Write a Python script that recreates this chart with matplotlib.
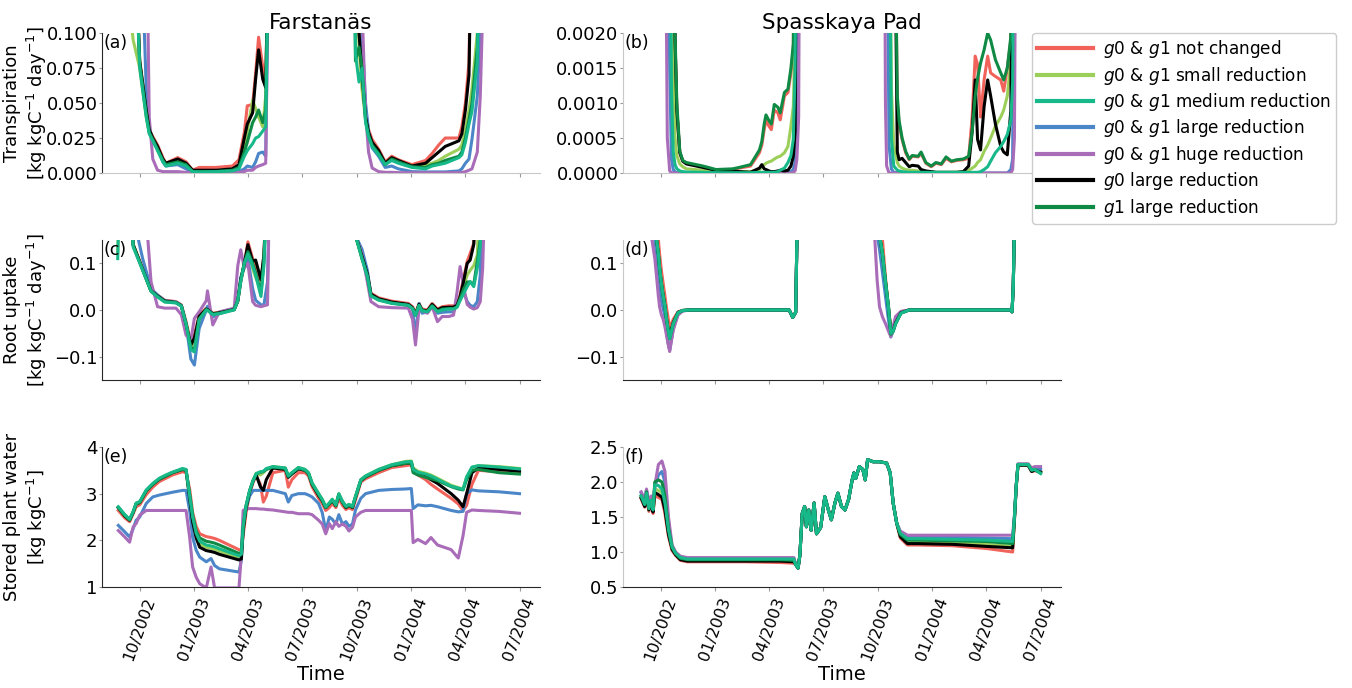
import numpy as np
import pandas as pd
import matplotlib
matplotlib.use('Agg')
import matplotlib.pyplot as plt
import matplotlib.dates as mdates

labels = ['$g0$ & $g1$ not changed', '$g0$ & $g1$ small reduction',
          '$g0$ & $g1$ medium reduction', '$g0$ & $g1$ large reduction',
          '$g0$ & $g1$ huge reduction', '$g0$ large reduction', '$g1$ large reduction']
colors = ['#f0625a', '#9ccf5a', '#17b889', '#4a86c8', '#a86cb8', '#000000', '#0e8a44']
zorders = [2.0, 2.1, 2.6, 2.2, 2.2, 2.3, 2.4]

# ---- (a) Farstanas transpiration ----
X = 0.2  # off the top of the axis
dates_a = ['2002-08-25', '2002-09-20', '2002-10-01', '2002-10-12', '2002-10-17', '2002-10-23',
           '2002-10-31', '2002-11-09', '2002-11-14', '2002-12-04', '2002-12-18', '2002-12-29',
           '2003-01-09', '2003-02-06', '2003-03-06', '2003-03-17', '2003-03-26', '2003-03-31',
           '2003-04-09', '2003-04-14', '2003-04-19', '2003-04-26', '2003-05-01', '2003-05-07',
           '2003-09-26', '2003-09-29', '2003-10-05', '2003-10-10', '2003-10-16', '2003-10-21',
           '2003-10-27', '2003-11-07', '2003-11-18', '2003-11-29', '2003-12-10', '2004-01-02',
           '2004-01-25', '2004-02-05', '2004-02-16', '2004-02-27', '2004-03-21', '2004-03-26',
           '2004-04-01', '2004-04-07', '2004-04-12', '2004-04-21', '2004-04-26', '2004-04-29',
           '2004-05-10', '2004-07-01']
a_r = [X, X, .08, .045, .031, .026, .020, .011, .007, .011,
       .008, .002, .004, .004, .005, .0095, .029, .048, .049, .071,
       .097, .076, .062, X, X, X, .1, .07, .043, .031,
       .024, .017, .008, .012, .0095, .006, .009, .014, .020, .025,
       .025, .033, .05, .079, X, X, X, X, X, X]
a_lg = [X, .095, .075, .04, .029, .024, .017, .009, .006, .008,
        .006, .001, .001, .001, .002, .005, .02, .03, .052, .046,
        .040, .033, .055, X, X, X, .09, .06, .038, .027,
        .020, .014, .006, .010, .008, .005, .006, .007, .009, .012,
        .017, .020, .031, .045, .06, .1, X, X, X, X]
a_t = [X, X, .075, .04, .028, .023, .016, .008, .005, .007,
       .005, .001, .0008, .001, .0015, .003, .012, .016, .021, .025,
       .026, .030, .033, X, X, .085, .065, .075, .036, .026,
       .019, .013, .006, .009, .007, .004, .003, .005, .006, .007,
       .011, .013, .022, .035, .044, .08, X, X, X, X]
a_b = [X, X, X, .06, .032, .024, .017, .008, .005, .006,
       .003, .0005, .0003, .0003, .0005, .001, .003, .005, .004, .008,
       .014, .015, .012, X, X, X, X, .1, .05, .03,
       .018, .012, .004, .005, .003, .001, .0008, .0008, .0008, .0008,
       .0015, .003, .007, .010, .024, .055, .1, X, X, X]
a_p = [X, X, X, X, .04, .01, .002, .001, .001, .001,
       .0005, .0002, .0002, .0002, .0003, .0005, .001, .002, .002, .004,
       .005, .006, .007, X, X, X, X, .12, .043, .015,
       .0036, .001, .0005, .0005, .0003, .0002, .0002, .0002, .0002, .0002,
       .0003, .0005, .001, .002, .003, .015, .055, .1, X, X]
a_k = [X, X, .08, .045, .031, .025, .019, .010, .007, .010,
       .007, .002, .002, .002, .003, .006, .025, .035, .043, .067,
       .088, .067, .061, X, X, X, .1, .07, .04, .029,
       .022, .016, .007, .011, .009, .005, .007, .011, .015, .019,
       .023, .028, .045, .070, X, X, X, X, X, X]
a_dg = [X, X, .078, .042, .029, .024, .017, .009, .006, .008,
        .006, .001, .001, .001, .002, .004, .015, .022, .036, .040,
        .045, .036, .045, X, X, .08, .09, .075, .038, .027,
        .020, .014, .006, .010, .008, .0045, .004, .006, .007, .009,
        .012, .015, .025, .038, .05, .09, X, X, X, X]

# ---- (b) Spasskaya Pad transpiration, in 1e-4 kg kgC-1 day-1 ----
X = 50
dates_b = ['2002-08-28', '2002-10-08', '2002-10-12', '2002-10-16', '2002-10-19', '2002-10-22',
           '2002-10-25', '2002-10-28', '2002-11-02', '2002-11-07', '2002-11-13', '2002-12-11',
           '2003-01-02', '2003-01-30', '2003-02-10', '2003-03-01', '2003-03-16', '2003-03-20',
           '2003-03-24', '2003-03-27', '2003-04-01', '2003-04-05', '2003-04-10', '2003-04-16',
           '2003-04-20', '2003-04-27', '2003-05-03', '2003-05-08', '2003-05-12', '2003-05-15',
           '2003-05-18', '2003-05-21', '2003-05-23', '2003-10-12', '2003-10-14', '2003-10-16',
           '2003-10-20', '2003-10-24', '2003-10-28', '2003-11-03', '2003-11-06', '2003-11-11',
           '2003-11-17', '2003-11-23', '2003-11-28', '2003-12-08', '2003-12-13', '2003-12-21',
           '2003-12-30', '2004-01-07', '2004-01-16', '2004-01-24', '2004-02-02', '2004-02-11',
           '2004-02-22', '2004-03-02', '2004-03-08', '2004-03-13', '2004-03-17', '2004-03-22',
           '2004-03-28', '2004-04-03', '2004-04-08', '2004-04-16', '2004-04-25', '2004-04-30',
           '2004-05-06', '2004-05-12', '2004-05-15', '2004-05-18', '2004-05-21', '2004-07-01']
b_r = [X, X, X, X, X, X, 19, 9, 2.9, 1.7,
       1.4, 0.9, 0.4, 0.5, 0.7, 1.0, 2.9, 4, 6.2, 7.6,
       6.7, 6.2, 9.0, 8.6, 7.6, 11, 11.5, 14.3, 17.6, X,
       X, X, X, X, X, X, X, X, X, 10,
       7, 4.8, 2.9, 1.9, 2.4, 2.3, 2.8, 1.4, 0.9, 1.4,
       1.2, 2.1, 1.6, 1.8, 1.9, 2.1, 8.1, 16.7, 15.5, 8.0,
       13.3, 16.7, 14.3, 13.8, 13.3, 11.7, 15, 19, X, X,
       X, X]
b_lg = [X, X, X, X, X, 14, 5, 2.5, 1.3, 0.9,
        0.6, 0.4, 0.2, 0.2, 0.2, 0.2, 0.5, 0.8, 1.2, 1.4,
        1.6, 1.7, 2.0, 2.3, 2.4, 2.9, 3.8, 6.7, 9.5, 20,
        X, X, X, X, X, X, X, 12, 4, 1.5,
        1.0, 0.7, 0.5, 0.4, 0.4, 0.3, 0.3, 0.2, 0.2, 0.1,
        0.1, 0.1, 0.1, 0.1, 0.2, 0.4, 0.7, 1.0, 1.5, 1.9,
        3.1, 4, 5, 6.7, 8, 9, 11, 16, X, X,
        X, X]
b_t = [X, X, X, X, 12, 3, 1.2, 0.6, 0.3, 0.2,
       0.15, 0.1, 0.05, 0.05, 0.05, 0.05, 0.1, 0.1, 0.1, 0.1,
       0.1, 0.1, 0.1, 0.2, 0.4, 0.7, 1.5, 2.5, 4.8, 15,
       X, X, X, X, X, X, X, 5, 1.0, 0.4,
       0.3, 0.2, 0.15, 0.1, 0.1, 0.1, 0.1, 0.1, 0.1, 0.1,
       0.1, 0.1, 0.1, 0.1, 0.1, 0.1, 0.1, 0.1, 0.1, 0.2,
       0.5, 0.9, 1.7, 2.9, 3.8, 4.5, 5.5, 7.6, 13, X,
       X, X]
b_b = [X, X, X, 15, 2, 0.5, 0.15, 0.05, 0.02, 0.01,
       0, 0, 0, 0, 0, 0, 0, 0, 0, 0,
       0, 0, 0, 0, 0, 0, 0.1, 0.2, 0.5, 1.5,
       6, X, X, X, X, X, 4, 0.6, 0.1, 0.05,
       0.03, 0, 0, 0, 0, 0, 0, 0, 0, 0,
       0, 0, 0, 0, 0, 0, 0, 0, 0, 0,
       0, 0, 0, 0, 0, 0, 0, 0.5, 2, X,
       X, X]
b_p = [X, X, 5, 0.3, 0.05, 0.02, 0, 0, 0, 0,
       0, 0, 0, 0, 0, 0, 0, 0, 0, 0,
       0, 0, 0, 0, 0, 0, 0, 0, 0.1, 0.3,
       2, 8, X, X, 10, 1, 0.02, 0, 0, 0,
       0, 0, 0, 0, 0, 0, 0, 0, 0, 0,
       0, 0, 0, 0, 0, 0, 0, 0, 0, 0,
       0, 0, 0, 0, 0, 0, 0, 0, 0.5, 5,
       X, X]
b_k = [X, X, X, X, X, X, 19, 9, 2.9, 1.7,
       1.3, 0.8, 0.4, 0.3, 0.2, 0.1, 0.7, 1.2, 0.6, 0.5,
       0.3, 0.2, 0.2, 0.3, 0.4, 0.3, 0.4, 1.0, 2.4, 6,
       X, X, X, X, X, X, X, X, X, 3,
       1.9, 2.1, 1.5, 0.9, 1.1, 1.0, 0.5, 0.3, 0.2, 0.1,
       0.1, 0.1, 0.1, 0.1, 0.2, 1.0, 6, 13.3, 4.8, 3.3,
       9.5, 13.3, 11, 7, 3.8, 3.0, 2.6, 9, X, X,
       X, X]
b_dg = [X, X, X, X, X, X, 20, 10, 3.1, 1.8,
        1.5, 1.0, 0.5, 0.6, 0.8, 1.2, 3.3, 4.5, 7, 8.3,
        7.5, 7.0, 9.8, 9.4, 8.6, 11.5, 12, 15, 18.5, X,
        X, X, X, X, X, X, X, X, X, 11,
        7.5, 5, 3.1, 2.0, 2.5, 2.4, 3.0, 1.5, 1.0, 1.5,
        1.3, 2.3, 1.7, 1.9, 2.0, 2.4, 6, 11, 13.5, 15.7,
        17.6, 20, 19, 16.2, 14.3, 13.3, 15, 19.5, X, X,
        X, X]

# ---- (c) Farstanas root uptake ----
X = 0.3
dates_c = ['2002-08-25', '2002-08-29', '2002-09-13', '2002-09-20', '2002-10-06', '2002-10-20',
           '2002-10-31', '2002-11-12', '2002-12-01', '2002-12-10', '2002-12-18', '2002-12-26',
           '2003-01-01', '2003-01-09', '2003-01-21', '2003-01-23', '2003-02-01', '2003-02-12',
           '2003-03-09', '2003-03-15', '2003-03-20', '2003-03-26', '2003-04-01', '2003-04-09',
           '2003-04-14', '2003-04-23', '2003-04-28', '2003-05-04', '2003-05-08', '2003-09-29',
           '2003-10-10', '2003-10-19', '2003-10-25', '2003-11-07', '2003-11-29', '2003-12-27',
           '2004-01-03', '2004-01-08', '2004-01-14', '2004-01-19', '2004-01-28', '2004-02-05',
           '2004-02-14', '2004-02-22', '2004-03-04', '2004-03-12', '2004-03-18', '2004-03-23',
           '2004-03-29', '2004-04-04', '2004-04-09', '2004-04-15', '2004-04-21', '2004-04-26',
           '2004-04-30', '2004-05-05', '2004-07-01']
c_r = [X, X, X, .14, .089, .043, .032, .021, .018, .011,
       -.025, -.071, -.054, -.011, .004, .003, -.007, -.005, .002, .018,
       .061, .096, .146, .11, .093, .061, .118, X, X, .16,
       .118, .079, .036, .026, .019, .014, .007, -.007, .014, .002,
       0, .014, .002, .007, .009, .009, .014, .032, .068, .104,
       .121, .143, X, X, X, X, X]
c_lg = [.125, X, X, .14, .086, .04, .029, .018, .016, .009,
        -.03, -.08, -.065, -.015, .002, 0, -.008, -.006, .001, .02,
        .065, .1, .13, .089, .07, .043, .11, X, X, .16,
        .11, .075, .032, .022, .015, .011, .004, -.01, .011, -.001,
        -.003, .01, -.002, .003, .004, .004, .008, .025, .05, .075,
        .085, .095, .118, X, X, X, X]
c_t = [.11, X, X, .135, .085, .04, .028, .017, .015, .008,
       -.03, -.085, -.09, -.02, 0, -.001, -.01, -.008, 0, .02,
       .06, .1, .12, .095, .075, .029, .096, X, X, .16,
       .11, .072, .03, .021, .014, .01, .003, -.012, .01, -.002,
       -.004, .008, -.004, 0, .002, .002, .006, .02, .035, .05,
       .061, .05, .09, .14, X, X, X]
c_b = [X, X, X, .2, .11, .046, .032, .02, .017, .01,
       -.03, -.105, -.118, -.04, 0, .008, -.015, -.008, .002, .02,
       .07, .09, .11, .046, .021, .011, .011, .06, X, .16,
       .13, .085, .032, .023, .016, .011, .004, -.054, .014, -.007,
       -.004, .007, -.007, -.005, -.004, -.004, .012, .025, .039, .018,
       .01, .007, .018, .075, X, X, X]
c_p = [X, X, X, X, X, .061, .007, .004, .004, -.01,
       -.054, -.065, -.018, -.004, .02, .041, -.032, -.004, .004, .095,
       .129, .09, .1, .018, .01, .007, .009, .011, X, .16,
       .12, .06, .018, .007, .005, .004, -.02, -.075, .004, -.002,
       -.007, .007, -.025, -.014, -.014, -.011, .039, .093, .05, .012,
       .006, .002, .005, .018, .089, X, X]
c_k = [X, X, X, .14, .087, .041, .030, .019, .016, .009,
       -.03, -.075, -.06, -.014, .002, .001, -.008, -.006, .001, .02,
       .065, .1, .14, .104, .107, .065, .118, X, X, .16,
       .115, .077, .034, .024, .017, .012, .005, -.009, .012, 0,
       -.002, .012, 0, .005, .006, .006, .01, .028, .062, .1,
       .107, .14, X, X, X, X, X]
c_dg = [X, X, X, .138, .086, .041, .029, .018, .016, .009,
        -.03, -.08, -.085, -.02, .001, 0, -.009, -.007, .001, .02,
        .062, .1, .125, .1, .08, .036, .105, X, X, .16,
        .11, .073, .031, .022, .015, .01, .003, -.011, .01, -.001,
        -.003, .009, -.003, .002, .003, .003, .007, .024, .045, .06,
        .06, .055, .104, .15, X, X, X]

# ---- (d) Spasskaya Pad root uptake ----
dates_d = ['2002-08-28', '2002-09-15', '2002-09-21', '2002-09-24', '2002-09-27', '2002-09-29',
           '2002-10-02', '2002-10-05', '2002-10-08', '2002-10-10', '2002-10-13', '2002-10-16',
           '2002-10-22', '2002-10-30', '2002-11-07', '2002-11-20', '2003-05-05', '2003-05-11',
           '2003-05-16', '2003-05-20', '2003-09-24', '2003-09-30', '2003-10-04', '2003-10-09',
           '2003-10-14', '2003-10-19', '2003-10-23', '2003-10-27', '2003-10-31', '2003-11-09',
           '2003-11-23', '2004-05-12', '2004-05-14', '2004-05-16', '2004-05-20', '2004-07-01']
d_r = [X, X, X, X, .15, .12, .085, .057, .03, .01,
       -.014, -.04, -.02, -.004, -.001, 0, 0, -.016, -.005, X,
       X, X, X, .15, .07, 0, -.035, -.04, -.02, -.004,
       0, 0, -.004, .05, X, X]
d_lg = [X, X, X, .15, .12, .09, .06, .033, .01, -.012,
        -.037, -.058, -.028, -.006, -.001, 0, 0, -.016, -.005, X,
        X, X, .16, .125, .065, .01, -.045, -.044, -.028, -.006,
        0, 0, -.004, .05, X, X]
d_t = [X, X, X, .15, .12, .09, .057, .03, .008, -.014,
       -.04, -.061, -.029, -.006, -.001, 0, 0, -.016, -.005, X,
       X, X, .16, .12, .06, .007, -.05, -.045, -.03, -.007,
       0, 0, -.004, .05, X, X]
d_b = [X, X, .15, .12, .08, .043, .02, .003, -.014, -.04,
       -.07, -.086, -.04, -.007, -.002, 0, 0, -.016, -.005, X,
       X, .16, .13, .08, .03, -.02, -.058, -.045, -.025, -.005,
       0, 0, -.004, .05, X, X]
d_p = [X, .16, .11, .07, .029, .007, -.01, -.02, -.036, -.05,
       -.07, -.089, -.043, -.011, -.002, 0, 0, -.016, -.005, X,
       .2, .064, .007, -.015, -.029, -.045, -.057, -.035, -.014, -.003,
       0, 0, -.004, .05, X, X]
d_k = [X, X, X, .15, .12, .09, .058, .032, .009, -.013,
       -.038, -.055, -.027, -.005, -.001, 0, 0, -.016, -.005, X,
       X, X, .16, .12, .062, .008, -.048, -.044, -.028, -.006,
       0, 0, -.004, .05, X, X]
d_dg = [X, X, X, .15, .12, .09, .057, .03, .008, -.014,
        -.04, -.062, -.03, -.006, -.001, 0, 0, -.016, -.005, X,
        X, X, .16, .12, .06, .007, -.052, -.046, -.03, -.007,
        0, 0, -.004, .05, X, X]

# ---- (e) Farstanas stored plant water ----
dates_e = ['2002-08-26', '2002-09-06', '2002-09-14', '2002-09-20', '2002-09-25', '2002-10-01',
           '2002-10-12', '2002-10-23', '2002-11-03', '2002-11-14', '2002-11-25', '2002-12-12',
           '2002-12-18', '2002-12-24', '2002-12-29', '2003-01-04', '2003-01-10', '2003-01-21',
           '2003-01-29', '2003-02-04', '2003-02-12', '2003-03-17', '2003-03-21', '2003-03-24',
           '2003-03-29', '2003-04-04', '2003-04-10', '2003-04-15', '2003-04-22', '2003-04-27',
           '2003-05-02', '2003-05-13', '2003-06-03', '2003-06-08', '2003-06-14', '2003-06-25',
           '2003-07-06', '2003-07-12', '2003-07-18', '2003-07-29', '2003-08-04', '2003-08-10',
           '2003-08-16', '2003-08-21', '2003-08-27', '2003-09-01', '2003-09-07', '2003-09-13',
           '2003-09-18', '2003-09-24', '2003-09-29', '2003-10-08', '2003-10-16', '2003-11-07',
           '2003-11-29', '2003-12-22', '2004-01-01', '2004-01-04', '2004-01-12', '2004-01-25',
           '2004-02-03', '2004-02-14', '2004-03-08', '2004-03-20', '2004-03-28', '2004-04-03',
           '2004-04-12', '2004-04-23', '2004-05-27', '2004-07-01']
e_r = [2.64, 2.48, 2.4, 2.57, 2.72, 2.76, 2.98, 3.14, 3.26, 3.33,
       3.4, 3.47, 3.45, 3.1, 2.6, 2.3, 2.14, 2.08, 2.06, 2.04,
       2.0, 1.8, 1.78, 2.1, 2.6, 3.0, 3.25, 3.38, 3.2, 2.82,
       2.95, 3.45, 3.5, 3.14, 3.3, 3.45, 3.45, 3.38, 3.15, 2.9,
       2.79, 2.64, 2.7, 2.79, 2.7, 2.9, 2.75, 2.66, 2.7, 2.66,
       2.86, 3.25, 3.32, 3.45, 3.56, 3.6, 3.62, 3.48, 3.4, 3.3,
       3.2, 3.1, 2.9, 2.78, 2.64, 2.75, 3.2, 3.5, 3.47, 3.44]
e_lg = [2.71, 2.54, 2.44, 2.61, 2.79, 2.82, 3.07, 3.21, 3.32, 3.39,
        3.45, 3.53, 3.51, 2.93, 2.45, 2.1, 1.92, 1.85, 1.83, 1.81,
        1.77, 1.64, 1.66, 2.28, 2.74, 3.06, 3.3, 3.44, 3.4, 3.45,
        3.52, 3.58, 3.55, 3.38, 3.45, 3.56, 3.52, 3.45, 3.23, 3.0,
        2.88, 2.72, 2.8, 2.88, 2.76, 3.0, 2.84, 2.73, 2.77, 2.73,
        2.94, 3.3, 3.38, 3.52, 3.62, 3.69, 3.7, 3.55, 3.48, 3.44,
        3.4, 3.33, 3.18, 3.13, 3.1, 3.35, 3.56, 3.6, 3.58, 3.54]
e_t = [2.72, 2.55, 2.45, 2.62, 2.8, 2.83, 3.08, 3.22, 3.33, 3.4,
       3.46, 3.54, 3.52, 2.95, 2.5, 2.15, 1.98, 1.9, 1.88, 1.86,
       1.82, 1.67, 1.7, 2.3, 2.75, 3.07, 3.29, 3.43, 3.47, 3.48,
       3.54, 3.58, 3.55, 3.38, 3.45, 3.56, 3.52, 3.45, 3.23, 3.0,
       2.88, 2.72, 2.8, 2.88, 2.76, 3.0, 2.84, 2.73, 2.77, 2.73,
       2.94, 3.3, 3.38, 3.52, 3.62, 3.68, 3.69, 3.52, 3.46, 3.42,
       3.38, 3.31, 3.16, 3.12, 3.09, 3.36, 3.57, 3.6, 3.57, 3.53]
e_b = [2.32, 2.18, 2.07, 2.25, 2.43, 2.5, 2.79, 2.93, 2.97, 3.0,
       3.03, 3.07, 3.07, 2.64, 2.07, 1.79, 1.64, 1.54, 1.61, 1.46,
       1.39, 1.32, 1.57, 2.29, 2.71, 2.95, 3.07, 3.07, 3.07, 3.07,
       3.07, 3.07, 3.0, 2.82, 2.96, 3.0, 3.0, 2.97, 2.93, 2.79,
       2.6, 2.2, 2.5, 2.45, 2.35, 2.55, 2.35, 2.4, 2.3, 2.35,
       2.65, 2.9, 3.0, 3.07, 3.09, 3.1, 3.11, 2.68, 2.76, 2.74,
       2.75, 2.72, 2.64, 2.61, 2.62, 3.0, 3.08, 3.06, 3.04, 3.0]
e_p = [2.21, 2.07, 1.96, 2.29, 2.36, 2.54, 2.64, 2.64, 2.64, 2.64,
       2.64, 2.64, 2.64, 2.07, 1.43, 1.21, 1.07, 0.98, 1.43, 0.98,
       0.98, 0.98, 1.71, 2.64, 2.68, 2.68, 2.68, 2.68, 2.67, 2.67,
       2.66, 2.65, 2.61, 2.6, 2.6, 2.57, 2.57, 2.57, 2.55, 2.43,
       2.35, 2.14, 2.36, 2.25, 2.4, 2.3, 2.35, 2.3, 2.2, 2.28,
       2.5, 2.6, 2.64, 2.64, 2.64, 2.64, 2.64, 1.95, 2.02, 1.93,
       2.06, 1.9, 1.8, 1.62, 2.1, 2.6, 2.65, 2.64, 2.62, 2.58]
e_k = [2.7, 2.52, 2.43, 2.6, 2.78, 2.81, 3.06, 3.2, 3.31, 3.38,
       3.45, 3.52, 3.5, 2.9, 2.4, 2.05, 1.85, 1.78, 1.76, 1.74,
       1.7, 1.58, 1.6, 2.2, 2.7, 3.05, 3.28, 3.4, 3.15, 3.07,
       3.3, 3.55, 3.52, 3.35, 3.42, 3.53, 3.5, 3.43, 3.2, 2.96,
       2.85, 2.7, 2.78, 2.85, 2.74, 2.97, 2.82, 2.7, 2.75, 2.7,
       2.92, 3.28, 3.36, 3.5, 3.6, 3.65, 3.66, 3.52, 3.45, 3.38,
       3.3, 3.22, 3.0, 2.86, 2.72, 3.0, 3.45, 3.55, 3.52, 3.48]
e_dg = [2.7, 2.53, 2.44, 2.6, 2.78, 2.81, 3.06, 3.2, 3.31, 3.38,
        3.45, 3.52, 3.5, 3.0, 2.55, 2.2, 2.05, 1.98, 1.96, 1.94,
        1.9, 1.72, 1.74, 2.3, 2.74, 3.06, 3.28, 3.42, 3.46, 3.47,
        3.52, 3.57, 3.54, 3.37, 3.44, 3.55, 3.5, 3.43, 3.21, 2.98,
        2.86, 2.7, 2.78, 2.86, 2.74, 2.98, 2.82, 2.71, 2.75, 2.71,
        2.92, 3.28, 3.36, 3.5, 3.6, 3.65, 3.66, 3.45, 3.4, 3.35,
        3.32, 3.28, 3.15, 3.1, 3.08, 3.3, 3.5, 3.52, 3.45, 3.42]

# ---- (f) Spasskaya Pad stored plant water ----
dates_f = ['2002-08-29', '2002-09-04', '2002-09-07', '2002-09-11', '2002-09-15', '2002-09-18',
           '2002-09-21', '2002-09-27', '2002-10-03', '2002-10-08', '2002-10-14', '2002-10-20',
           '2002-10-26', '2002-11-03', '2002-11-15', '2002-12-25', '2003-02-21', '2003-04-20',
           '2003-05-13', '2003-05-16', '2003-05-20', '2003-05-23', '2003-05-27', '2003-05-31',
           '2003-06-03', '2003-06-07', '2003-06-11', '2003-06-16', '2003-06-20', '2003-06-27',
           '2003-07-04', '2003-07-10', '2003-07-15', '2003-07-21', '2003-07-26', '2003-08-01',
           '2003-08-07', '2003-08-13', '2003-08-19', '2003-08-22', '2003-08-25', '2003-08-31',
           '2003-09-06', '2003-09-10', '2003-09-14', '2003-09-23', '2003-10-04', '2003-10-16',
           '2003-10-22', '2003-10-27', '2003-11-02', '2003-11-08', '2003-11-20', '2003-12-07',
           '2004-02-03', '2004-04-01', '2004-05-15', '2004-05-18', '2004-05-21', '2004-05-24',
           '2004-06-10', '2004-06-16', '2004-06-21', '2004-07-01']
f_summer = [0.82, 0.77, 0.95, 1.55, 1.65, 1.36, 1.6, 1.31, 1.70, 1.26,
            1.35, 1.79, 1.6, 1.46, 1.70, 1.84, 1.65, 1.60, 1.75, 2.03,
            2.13, 2.05, 2.22, 2.18, 2.03, 2.32, 2.29, 2.29, 2.27, 2.13,
            1.70, 1.41]
f_r = ([1.76, 1.64, 1.78, 1.58, 1.7, 1.55, 1.8, 1.78, 1.75, 1.55,
        1.22, 1.02, 0.95, 0.88, 0.86, 0.86, 0.86, 0.85, 0.84] + f_summer +
       [1.2, 1.1, 1.1, 1.09, 1.05, 1.0, 1.45, 1.92, 2.24, 2.24, 2.15, 2.16, 2.15])
f_lg = ([1.78, 1.66, 1.82, 1.6, 1.72, 1.58, 1.9, 1.88, 1.85, 1.65,
         1.28, 1.05, 0.97, 0.9, 0.88, 0.88, 0.88, 0.88, 0.87] + f_summer +
        [1.23, 1.14, 1.14, 1.13, 1.11, 1.08, 1.47, 1.93, 2.24, 2.24, 2.16, 2.17, 2.14])
f_t = ([1.8, 1.68, 1.84, 1.62, 1.74, 1.6, 1.96, 1.95, 1.9, 1.7,
        1.31, 1.07, 0.98, 0.92, 0.9, 0.9, 0.9, 0.9, 0.9] + f_summer +
       [1.27, 1.19, 1.19, 1.18, 1.17, 1.15, 1.5, 1.94, 2.25, 2.25, 2.17, 2.18, 2.12])
f_b = ([1.84, 1.72, 1.88, 1.68, 1.78, 1.66, 1.92, 2.1, 2.15, 2.0,
        1.4, 1.09, 0.99, 0.93, 0.91, 0.91, 0.91, 0.91, 0.91] + f_summer +
       [1.28, 1.21, 1.21, 1.21, 1.2, 1.19, 1.5, 1.95, 2.25, 2.25, 2.18, 2.2, 2.18])
f_p = ([1.86, 1.75, 1.9, 1.72, 1.8, 1.7, 1.95, 2.25, 2.3, 2.15,
        1.5, 1.1, 1.0, 0.94, 0.92, 0.92, 0.92, 0.92, 0.92] + f_summer +
       [1.3, 1.24, 1.24, 1.24, 1.24, 1.24, 1.52, 1.96, 2.26, 2.26, 2.2, 2.22, 2.22])
f_k = ([1.77, 1.65, 1.8, 1.6, 1.7, 1.57, 1.85, 1.82, 1.78, 1.6,
        1.25, 1.04, 0.96, 0.89, 0.87, 0.87, 0.87, 0.87, 0.86] + f_summer +
       [1.22, 1.12, 1.12, 1.11, 1.08, 1.06, 1.46, 1.93, 2.24, 2.24, 2.15, 2.17, 2.14])
f_dg = ([1.8, 1.68, 1.86, 1.63, 1.74, 1.62, 2.0, 2.03, 2.0, 1.8,
         1.35, 1.07, 0.98, 0.91, 0.89, 0.89, 0.89, 0.89, 0.88] + f_summer +
        [1.25, 1.17, 1.17, 1.16, 1.15, 1.12, 1.48, 1.94, 2.25, 2.25, 2.17, 2.18, 2.13])

x_range = ['2002-07-29', '2004-08-04']


def draw(ax, dates, series, scale=1.0):
    t = pd.to_datetime(dates)
    for vals, c, lab, z in zip(series, colors, labels, zorders):
        ax.plot(t, np.array(vals) * scale, color=c, lw=2.2, label=lab, zorder=z)


fig, axes = plt.subplots(3, 2, sharex=True, figsize=(13.52, 6.88), dpi=100)

draw(axes[0, 0], dates_a, [a_r, a_lg, a_t, a_b, a_p, a_k, a_dg])
draw(axes[0, 1], dates_b, [b_r, b_lg, b_t, b_b, b_p, b_k, b_dg], scale=1e-4)
draw(axes[1, 0], dates_c, [c_r, c_lg, c_t, c_b, c_p, c_k, c_dg])
draw(axes[1, 1], dates_d, [d_r, d_lg, d_t, d_b, d_p, d_k, d_dg])
draw(axes[2, 0], dates_e, [e_r, e_lg, e_t, e_b, e_p, e_k, e_dg])
draw(axes[2, 1], dates_f, [f_r, f_lg, f_t, f_b, f_p, f_k, f_dg])

# axis positions (figure fractions)
lefts = [0.0752, 0.4606]
bottoms = [0.7485, 0.4477, 0.1468]
for i in range(3):
    for j in range(2):
        axes[i, j].set_position([lefts[j], bottoms[i], 0.324, 0.2035])

axes[0, 0].set_xlim(pd.to_datetime(x_range[0]), pd.to_datetime(x_range[1]))
axes[0, 0].set_ylim(0, 0.1)
axes[0, 0].set_yticks([0, 0.025, 0.05, 0.075, 0.1])
axes[0, 1].set_ylim(0, 0.002)
axes[0, 1].set_yticks([0, 0.0005, 0.001, 0.0015, 0.002])
for ax in axes[1]:
    ax.set_ylim(-0.15, 0.15)
    ax.set_yticks([-0.1, 0.0, 0.1])
axes[2, 0].set_ylim(1, 4)
axes[2, 0].set_yticks([1, 2, 3, 4])
axes[2, 1].set_ylim(0.5, 2.5)
axes[2, 1].set_yticks([0.5, 1.0, 1.5, 2.0, 2.5])

axes[2, 0].xaxis.set_major_locator(mdates.MonthLocator(bymonth=[1, 4, 7, 10]))
axes[2, 0].xaxis.set_major_formatter(mdates.DateFormatter('%m/%Y'))

dark, faint = '#262626', '#c8c8c8'
for i in range(3):
    for j in range(2):
        ax = axes[i, j]
        ax.spines['top'].set_visible(False)
        ax.spines['right'].set_visible(False)
        ax.spines['left'].set_color(dark if j == 0 else faint)
        ax.spines['bottom'].set_color(faint if i == 0 else dark)
        ax.tick_params(axis='y', labelsize=13, length=2.5, color='#999999', pad=0.5)
        ax.tick_params(axis='x', labelsize=11.5, length=3, color='#999999', pad=3)
        ax.text(0.004, 0.995, '(' + 'abcdef'[2 * i + j] + ')', transform=ax.transAxes,
                ha='left', va='top', fontsize=12.5)

for ax in axes[2]:
    ax.set_xlabel('Time', fontsize=14, labelpad=2)
    for lab in ax.get_xticklabels():
        lab.set_rotation(70)

axes[0, 0].set_title('Farstanäs', fontsize=15.5, pad=3)
axes[0, 1].set_title('Spasskaya Pad', fontsize=15.5, pad=3)
axes[0, 0].set_ylabel('Transpiration\n[kg kgC$^{-1}$ day$^{-1}$]', fontsize=13, labelpad=-2)
axes[1, 0].set_ylabel('Root uptake\n[kg kgC$^{-1}$ day$^{-1}$]', fontsize=13, labelpad=-2)
axes[2, 0].set_ylabel('Stored plant water\n[kg kgC$^{-1}$]', fontsize=13, labelpad=-2)
fig.align_ylabels(axes[:, 0])

handles, labs = axes[0, 0].get_legend_handles_labels()
leg = fig.legend(handles, labs, loc='upper left', bbox_to_anchor=(0.7635, 0.952),
                 borderaxespad=0, fontsize=12.2, handlelength=3.3, handletextpad=0.6,
                 labelspacing=0.26, borderpad=0.3, framealpha=1, edgecolor='#cccccc')
for line in leg.get_lines():
    line.set_linewidth(3)

fig.savefig('out.png', dpi=100)
